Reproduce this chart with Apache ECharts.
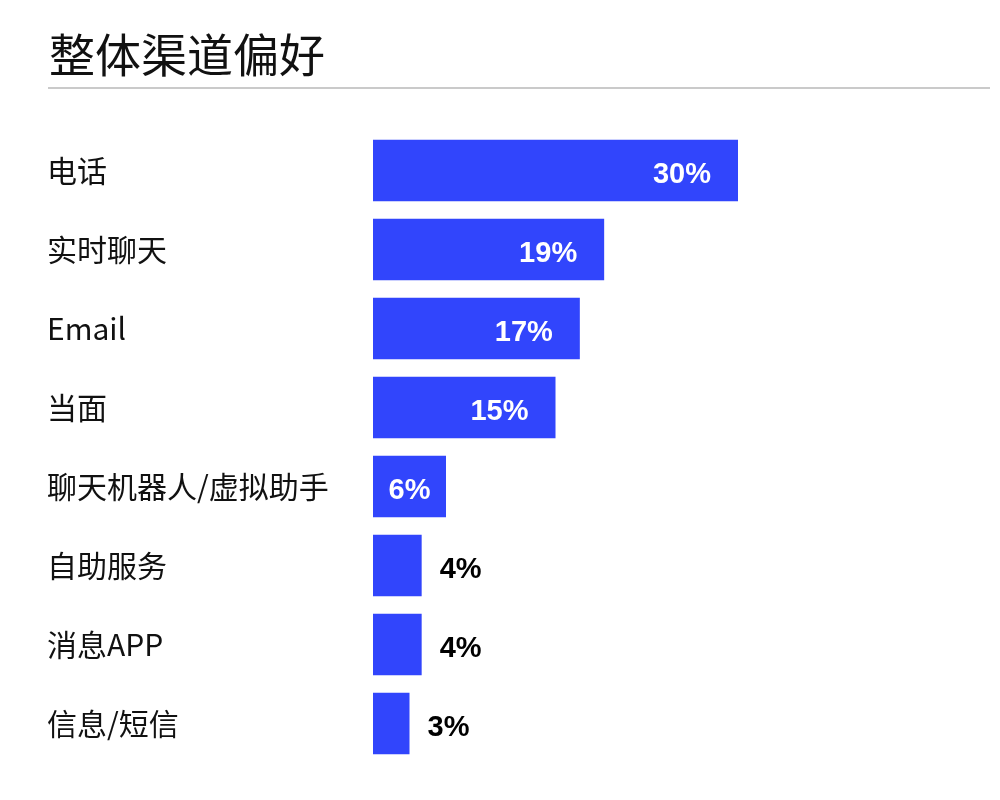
<!DOCTYPE html>
<html>
<head>
<meta charset="utf-8">
<script src="https://cdn.jsdelivr.net/npm/echarts@6/dist/echarts.min.js"></script>
<style>
  html, body { margin: 0; padding: 0; background: #fff; }
  #chart { width: 1000px; height: 800px; }
</style>
</head>
<body>
<div id="chart"></div>
<script>
  var titleText = '整体渠道偏好';
  var channels = ['电话', '实时聊天', 'Email', '当面', '聊天机器人/虚拟助手', '自助服务', '消息APP', '信息/短信'];
  var shares = [30, 19, 17, 15, 6, 4, 4, 3];

  var barColor = '#3145FC';

  // big bars get the label inside, small ones outside in black
  function labelFor(v) {
    if (v >= 10) {
      return { position: 'insideRight', distance: 27, color: '#fff' };
    }
    if (v >= 5) {
      return { position: 'inside', color: '#fff' };
    }
    return { position: 'right', distance: 18, color: '#000' };
  }

  var barData = shares.map(function (v) {
    return { value: v, label: labelFor(v) };
  });

  var chart = echarts.init(document.getElementById('chart'));

  chart.setOption({
    animation: false,
    title: {
      text: titleText,
      left: 44,
      top: 27,
      textStyle: {
        fontFamily: 'Noto Sans CJK SC',
        fontSize: 46,
        fontWeight: 'normal',
        color: '#111'
      }
    },
    graphic: [{
      type: 'line',
      shape: { x1: 48, y1: 88, x2: 990, y2: 88 },
      style: { stroke: '#b8b8b8', lineWidth: 1.5 }
    }],
    grid: {
      left: 373,
      width: 365,
      top: 131,
      height: 632
    },
    xAxis: {
      type: 'value',
      min: 0,
      max: 30,
      show: false
    },
    yAxis: {
      type: 'category',
      data: channels,
      inverse: true,
      axisLine: { show: false },
      axisTick: { show: false },
      splitLine: { show: false },
      axisLabel: {
        align: 'left',
        margin: 326,
        padding: [8, 0, 0, 0],
        fontFamily: 'Noto Sans CJK SC',
        fontSize: 30,
        color: '#111'
      }
    },
    series: [{
      type: 'bar',
      data: barData,
      barCategoryGap: '22%',
      itemStyle: { color: barColor },
      label: {
        show: true,
        formatter: '{c}%',
        offset: [0, 4],
        fontFamily: 'Liberation Sans',
        fontWeight: 'bold',
        fontSize: 29
      }
    }]
  });
</script>
</body>
</html>
